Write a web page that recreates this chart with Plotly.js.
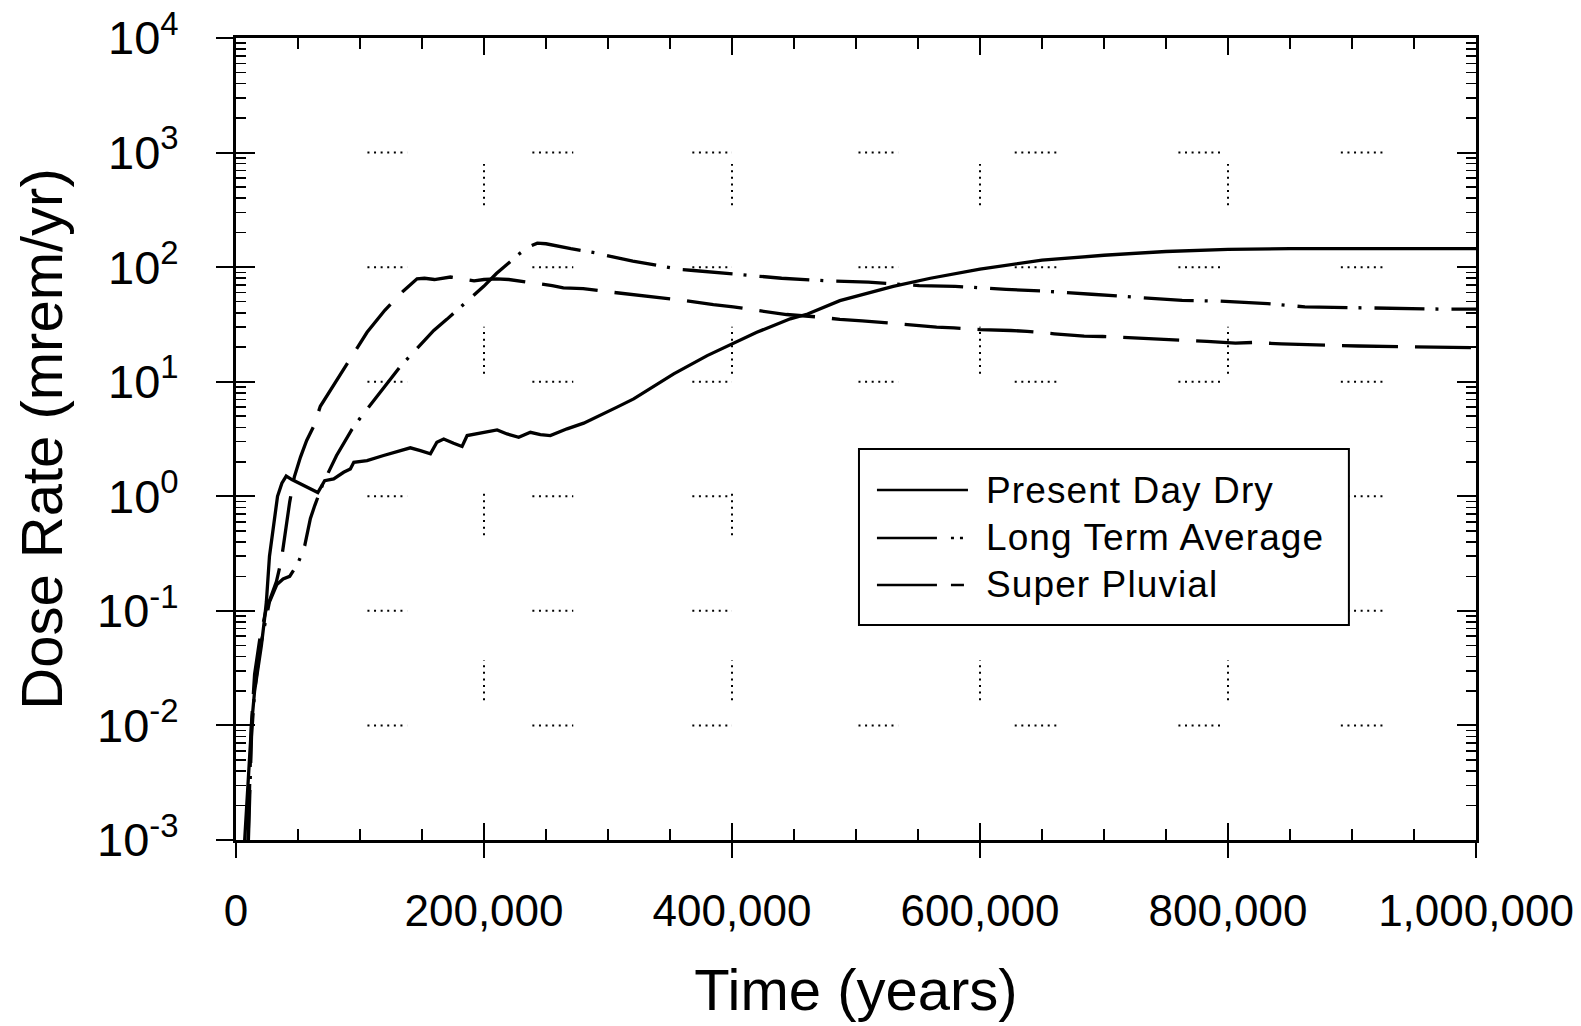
<!DOCTYPE html>
<html>
<head>
<meta charset="utf-8">
<script src="https://cdn.plot.ly/plotly-3.0.1.min.js"></script>
<style>
  html, body { margin: 0; padding: 0; background: #fff; }
  #chart { width: 1581px; height: 1026px; }
  .annotation-text { letter-spacing: 1.1px; }
</style>
</head>
<body>
<div id="chart"></div>
<script>
// ---------------- data ----------------
const seriesNames = ["Present Day Dry", "Long Term Average", "Super Pluvial"];

const timePresentDayDry = [7000, 9500, 12500, 15000, 18000, 20500, 23000, 24500, 27000, 29000, 31000, 33500,
  37000, 40500, 45000, 50000, 55000, 60000, 66000, 71500, 78800, 86800, 92200, 95000, 105700, 119000,
  132600, 140600, 148700, 156800, 162000, 167500, 175500, 182300, 186400, 199800, 210600, 218600, 228000,
  237400, 245500, 253500, 267000, 280400, 293900, 307300, 320700, 334000, 353000, 380000, 400000, 420000,
  447000, 461000, 487000, 510000, 530000, 560000, 600000, 650000, 700000, 750000, 800000, 850000, 900000,
  1000000];
const dosePresentDayDry = [0.001, 0.003, 0.01, 0.02, 0.032, 0.05, 0.085, 0.12, 0.3, 0.45, 0.66, 1.0,
  1.3, 1.5, 1.4, 1.32, 1.25, 1.17, 1.08, 1.37, 1.42, 1.62, 1.73, 1.98, 2.05, 2.27,
  2.5, 2.65, 2.5, 2.35, 2.96, 3.16, 2.9, 2.72, 3.39, 3.62, 3.8, 3.5, 3.27,
  3.62, 3.46, 3.39, 3.88, 4.35, 5.07, 6.0, 7.08, 8.66, 11.7, 16.9, 21.5, 27,
  35.4, 39, 51, 60, 68, 80, 96, 115, 127, 137, 143, 145, 145,
  145];

const timeLongTermAverage = [10000, 12500, 15000, 19000, 22000, 27000, 33000, 38000, 43300, 50000, 55400,
  60000, 63500, 70000, 81000, 93600, 100000, 110000, 120000, 132600, 145000, 159500, 170000, 185000,
  199800, 210000, 220000, 229000, 236000, 243000, 250000, 260000, 270000, 290000, 299000, 320000, 341000,
  360000, 369000, 390000, 411000, 440000, 482000, 510000, 551000, 580000, 621000, 650000, 690000, 721000,
  763000, 793000, 832000, 862000, 904000, 932000, 975000, 1000000];
const doseLongTermAverage = [0.001, 0.008, 0.02, 0.045, 0.065, 0.12, 0.17, 0.19, 0.2, 0.26, 0.37,
  0.64, 0.83, 1.28, 2.26, 3.85, 4.8, 6.6, 9.1, 13.6, 19, 28, 35, 49,
  68, 88, 110, 132, 150, 162, 160, 152, 145, 133, 126, 113, 103,
  95, 93.5, 89, 85, 80, 75.5, 74, 69, 68, 64, 62, 58, 55,
  51.3, 50.5, 48, 45, 44, 43.4, 43, 43];

const timeSuperPluvial = [9700, 11000, 12400, 15000, 19000, 24000, 28000, 32600, 36500, 40000, 43300, 47000,
  52000, 57000, 62700, 68000, 80000, 96300, 105700, 120000, 135000, 146000, 152000, 160000, 167000, 173000,
  180000, 192000, 200000, 210000, 220000, 235000, 245000, 255000, 264000, 280000, 300000, 323000, 340000,
  362000, 385000, 401000, 420000, 444000, 471000, 487000, 505000, 519000, 540000, 565000, 579000, 600000,
  625000, 638000, 660000, 684000, 699000, 722000, 745000, 760000, 783000, 806000, 820000, 843000, 866000,
  880000, 905000, 927000, 946000, 970000, 1000000];
const doseSuperPluvial = [0.001, 0.004, 0.01, 0.028, 0.055, 0.1, 0.13, 0.18, 0.275, 0.5, 0.89, 1.47,
  2.2, 3.07, 4.1, 6.1, 9.8, 18.4, 27, 42, 62, 79, 80, 78, 80, 82,
  80, 76, 78, 79, 78, 74, 72, 69, 66, 65, 61, 57, 55,
  51, 47, 45, 42, 38.6, 36.6, 35, 34, 33, 31.5, 30, 29.5, 28.5,
  28, 27.5, 26.2, 25, 24.8, 24.2, 23.7, 23.4, 22.5, 21.7, 22, 21.4, 20.9,
  20.8, 20.5, 20.3, 20.2, 20, 19.8];

// axis ticks
const xTickValues = [0, 200000, 400000, 600000, 800000, 1000000];
const yDecades = [-3, -2, -1, 0, 1, 2, 3, 4];
const yTickLabels = ["10<sup>-3</sup>", "10<sup>-2</sup>", "10<sup>-1</sup>", "10<sup>0</sup>",
  "10<sup>1</sup>", "10<sup>2</sup>", "10<sup>3</sup>", "10<sup>4</sup>"];

// broken dotted grid of the original (years / log10 units)
const gridRowDecades = [-2, -1, 0, 1, 2, 3];
const gridRowSpans = [[106000, 138000], [239000, 272000], [368000, 400000], [502000, 534000],
  [628000, 662000], [760000, 795000], [891000, 925000]];
const gridColumnTimes = [200000, 400000, 600000, 800000];
const gridColumnSpans = [[2.54, 2.90], [1.07, 1.48], [-0.34, 0.04], [-1.78, -1.43]];

// ---------------- figure ----------------
const FONT = "Liberation Sans, Arial, Helvetica, sans-serif";
const ink = "#000";
const styles = [
  { color: ink, width: 3.3 },
  { color: ink, width: 3.3, dash: "50px,11px,3px,13px" },
  { color: ink, width: 3.3, dash: "56px,17px" }
];
const legendSampleDash = ["solid", "60px,14px,3px,6px,3px,40px", "60px,14px,13px,40px"];

const yTickVals = yDecades.map(d => Math.pow(10, d));
const yMinorVals = [];
for (let d = -3; d < 4; d++) for (let k = 2; k <= 9; k++) yMinorVals.push(k * Math.pow(10, d));

const traces = [
  { x: timePresentDayDry, y: dosePresentDayDry, name: seriesNames[0], type: "scatter", mode: "lines", line: styles[0] },
  { x: timeLongTermAverage, y: doseLongTermAverage, name: seriesNames[1], type: "scatter", mode: "lines", line: styles[1] },
  { x: timeSuperPluvial, y: doseSuperPluvial, name: seriesNames[2], type: "scatter", mode: "lines", line: styles[2] },
  // invisible helper so the overlaying tick axes are drawn
  { x: [0], y: [1], xaxis: "x2", yaxis: "y2", mode: "markers", marker: { opacity: 0 }, showlegend: false, hoverinfo: "skip" }
];

const shapes = [];
const dotLine = { color: ink, width: 2, dash: "2px,4.6px" };
gridRowDecades.forEach(d => {
  gridRowSpans.forEach(s => {
    shapes.push({ type: "line", xref: "x", yref: "y", x0: s[0], x1: s[1],
      y0: Math.pow(10, d), y1: Math.pow(10, d), line: dotLine, layer: "below" });
  });
});
gridColumnTimes.forEach(t => {
  gridColumnSpans.forEach(s => {
    shapes.push({ type: "line", xref: "x", yref: "y", x0: t, x1: t,
      y0: Math.pow(10, s[0]), y1: Math.pow(10, s[1]), line: dotLine, layer: "below" });
  });
});

// hand-drawn legend box (paper coordinates), drawn above the grid
const legendBox = { x0: 0.5024, x1: 0.8975, y0: 0.2681, y1: 0.4875 };
const legendRowsY = [0.4364, 0.3766, 0.3180];
const legendSampleX = [0.5169, 0.5903];
const legendTextX = 0.6035;
shapes.push({ type: "rect", xref: "paper", yref: "paper", x0: legendBox.x0, x1: legendBox.x1,
  y0: legendBox.y0, y1: legendBox.y1, fillcolor: "#fff", line: { color: ink, width: 2 }, layer: "above" });
const annotations = [];
seriesNames.forEach((name, i) => {
  shapes.push({ type: "line", xref: "paper", yref: "paper", x0: legendSampleX[0], x1: legendSampleX[1],
    y0: legendRowsY[i], y1: legendRowsY[i],
    line: { color: ink, width: 2.5, dash: legendSampleDash[i] }, layer: "above" });
  annotations.push({ xref: "paper", yref: "paper", x: legendTextX, y: legendRowsY[i], xanchor: "left", yanchor: "middle",
    text: name, showarrow: false, font: { family: FONT, size: 37, color: ink } });
});

const layout = {
  width: 1581, height: 1026,
  margin: { l: 236, r: 105, t: 38, b: 186 },
  paper_bgcolor: "#fff", plot_bgcolor: "#fff",
  font: { family: FONT, color: ink },
  showlegend: false,
  xaxis: {
    range: [0, 1000000], tickvals: xTickValues, tickformat: ",",
    ticks: "outside", ticklen: 15, tickwidth: 2, tickcolor: ink,
    showline: true, linewidth: 3, linecolor: ink, mirror: true,
    showgrid: false, zeroline: false,
    tickfont: { family: FONT, size: 44, color: ink },
    ticklabelstandoff: 15,
    title: { text: "Time (years)", font: { family: FONT, size: 58, color: ink }, standoff: 36 }
  },
  xaxis2: {
    overlaying: "x", anchor: "y", side: "bottom",
    range: [0, 1000000], tick0: 0, dtick: 200000,
    ticks: "inside", ticklen: 17, tickwidth: 2, tickcolor: ink,
    showticklabels: false, showline: false, showgrid: false, zeroline: false, mirror: "ticks",
    minor: { ticks: "inside", ticklen: 11, tickwidth: 2, tickcolor: ink, dtick: 50000, tick0: 0, showgrid: false }
  },
  yaxis: {
    type: "log", range: [-3, 4],
    tickvals: yTickVals, ticktext: yTickLabels,
    ticks: "outside", ticklen: 17, tickwidth: 2, tickcolor: ink,
    showline: true, linewidth: 3, linecolor: ink, mirror: true,
    showgrid: false, zeroline: false,
    tickfont: { family: FONT, size: 47, color: ink },
    ticklabelstandoff: 28,
    title: { text: "Dose Rate (mrem/yr)", font: { family: FONT, size: 58, color: ink }, standoff: 16 }
  },
  yaxis2: {
    type: "log", range: [-3, 4], overlaying: "y", anchor: "x", side: "left",
    tickvals: yTickVals,
    ticks: "inside", ticklen: 19, tickwidth: 2, tickcolor: ink,
    showticklabels: false, showline: false, showgrid: false, zeroline: false, mirror: "ticks",
    minor: { tickmode: "array", tickvals: yMinorVals, ticks: "inside", ticklen: 10, tickwidth: 1.6, tickcolor: ink, showgrid: false }
  },
  shapes: shapes,
  annotations: annotations
};

Plotly.newPlot("chart", traces, layout, { displayModeBar: false, staticPlot: true });
</script>
</body>
</html>
